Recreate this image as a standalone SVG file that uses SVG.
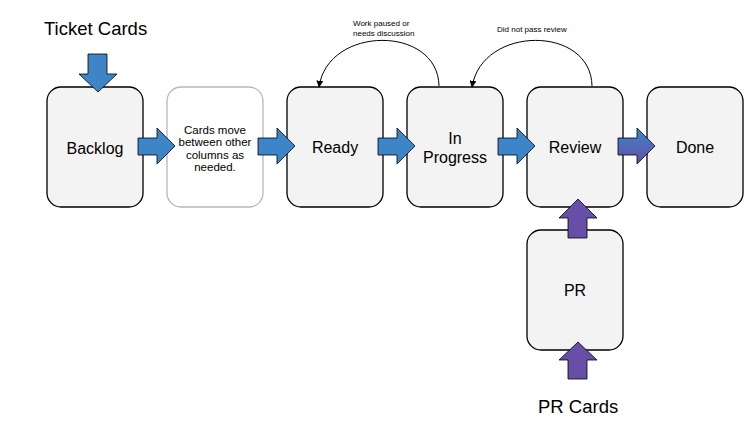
<svg xmlns="http://www.w3.org/2000/svg" width="756" height="429" viewBox="0 0 756 429">
<defs>
<style>
.card{fill:#f3f3f3;stroke:#000;stroke-width:1.3}
.note{fill:#fff;stroke:#b7b7b7;stroke-width:1.3}
.lbl{font-family:"Liberation Sans",Arial,sans-serif;font-size:16px;fill:#000;text-anchor:middle}
.small{font-family:"Liberation Sans",Arial,sans-serif;font-size:11.5px;fill:#000;text-anchor:middle}
.tiny{font-family:"Liberation Sans",Arial,sans-serif;font-size:8px;fill:#000}
.big{font-family:"Liberation Sans",Arial,sans-serif;font-size:18.5px;fill:#000}
.blue{fill:#3d85c6;stroke:#000;stroke-width:0.8;stroke-linejoin:miter}
.purple{fill:#674ea7;stroke:#000;stroke-width:0.8}
.grad{fill:url(#bp);stroke:#000;stroke-width:0.8}
.curve{fill:none;stroke:#000;stroke-width:1;marker-end:url(#ah)}
</style>
<linearGradient id="bp" x1="0" y1="0" x2="0" y2="1">
<stop offset="0" stop-color="#3d85c6"/>
<stop offset="1" stop-color="#674ea7"/>
</linearGradient>
<marker id="ah" viewBox="0 0 10 10" refX="9" refY="5" markerWidth="7" markerHeight="7" markerUnits="userSpaceOnUse" orient="auto">
<path d="M0,0 L10,5 L0,10 z" fill="#000"/>
</marker>
</defs>

<text class="big" x="44" y="35">Ticket Cards</text>
<text class="big" x="538" y="413">PR Cards</text>

<g id="backlog"><rect class="card" x="47" y="87" width="96" height="120" rx="14"/><text class="lbl" x="95" y="154">Backlog</text></g>
<g id="note"><rect class="note" x="167" y="87" width="96" height="120" rx="14"/>
<text class="small" x="215" y="133.5">Cards move</text>
<text class="small" x="215" y="146">between other</text>
<text class="small" x="215" y="158.5">columns as</text>
<text class="small" x="215" y="171">needed.</text></g>
<g id="ready"><rect class="card" x="287" y="87" width="96" height="120" rx="14"/><text class="lbl" x="335" y="153">Ready</text></g>
<g id="inprogress"><rect class="card" x="407" y="87" width="96" height="120" rx="14"/><text class="lbl" x="455" y="144">In</text><text class="lbl" x="455" y="162.5">Progress</text></g>
<g id="review"><rect class="card" x="527" y="87" width="96" height="120" rx="14"/><text class="lbl" x="575" y="153">Review</text></g>
<g id="done"><rect class="card" x="647" y="87" width="96" height="120" rx="14"/><text class="lbl" x="695" y="153">Done</text></g>
<g id="pr"><rect class="card" x="527" y="230" width="96" height="120" rx="14"/><text class="lbl" x="575" y="296">PR</text></g>

<g id="connectors">
<path class="blue" d="M88,54 H107 V74 H117 L98,92 L79,74 H88 Z"/>
<path class="blue" d="M138,138 H157 V128 L175,146 L157,164 V155 H138 Z"/>
<path class="blue" d="M258,138 H277 V128 L295,146 L277,164 V155 H258 Z"/>
<path class="blue" d="M378,138 H397 V128 L415,146 L397,164 V155 H378 Z"/>
<path class="blue" d="M498,138 H517 V128 L535,146 L517,164 V155 H498 Z"/>
<path class="grad" d="M618,138 H637 V128 L655,146 L637,164 V155 H618 Z"/>
<path class="purple" d="M568,238 V218 H559 L578,199 L597,218 H587 V238 Z"/>
<path class="purple" d="M568,379 V360 H559 L578,342 L597,360 H587 V379 Z"/>
<path class="curve" d="M439,86 C438,25 328,25 319,87"/>
<path class="curve" d="M592,86 C591,25 482,25 472,87"/>
<text class="tiny" x="353" y="25.5">Work paused or</text>
<text class="tiny" x="353" y="36">needs discussion</text>
<text class="tiny" x="497" y="32">Did not pass review</text>
</g>
</svg>
